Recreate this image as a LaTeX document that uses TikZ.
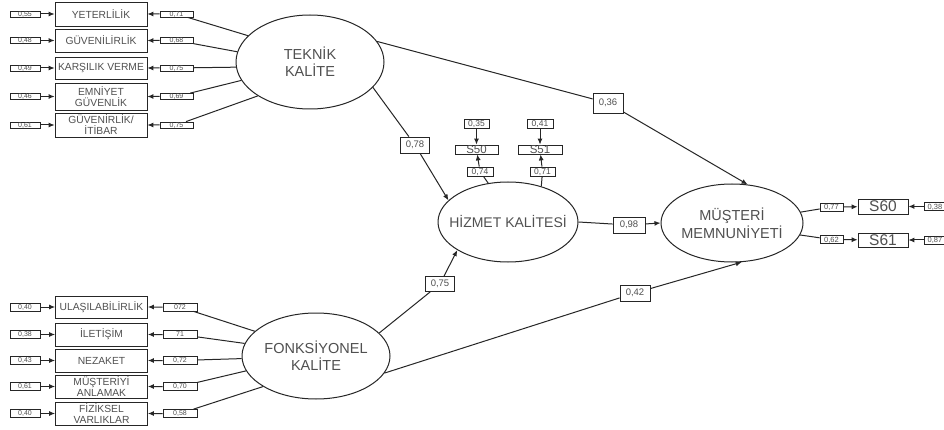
\documentclass[tikz,border=0pt]{standalone}
\usepackage{fontspec}
\setmainfont{Liberation Sans}
\usetikzlibrary{shapes.geometric,arrows.meta}
\definecolor{txt}{HTML}{505050}
\definecolor{ln}{HTML}{262626}
\begin{document}
\begin{tikzpicture}[x=1pt,y=-1pt,
  every node/.style={text=txt},
  ind/.style={draw=ln, line width=0.8pt, minimum width=92pt, inner sep=0pt, align=center, font=\fontsize{10.3}{11}\selectfont},
  errb/.style={draw=ln, line width=0.8pt, minimum width=30pt, minimum height=6pt, inner sep=0pt, text depth=0pt, font=\fontsize{7}{7}\selectfont},
  ldb/.style={errb, minimum width=33pt},
  lat/.style={draw=ln, ellipse, line width=1pt, inner sep=0pt},
  lattxt/.style={align=center, inner sep=0pt, font=\fontsize{14.5}{17}\selectfont},
  lab/.style={draw=ln, fill=white, line width=0.8pt, inner sep=0pt, minimum width=29pt, minimum height=16pt, font=\fontsize{9.5}{10}\selectfont},
  smb/.style={draw=ln, line width=0.8pt, inner sep=0pt, minimum height=9pt, text depth=0pt, font=\fontsize{8.5}{9}\selectfont},
  con/.style={ln, line width=1pt},
  arr/.style={con, -{Latex[length=6pt,width=5pt]}}
]
\useasboundingbox (0,0) rectangle (944,430);
\fill[white] (0,0) rectangle (944,430);

% latent variables
\node[lat, minimum width=148pt, minimum height=94pt] (T) at (310,62) {};
\node[lattxt] (Tt) at (T) {TEKNİK\\KALİTE};
\node[lat, minimum width=148pt, minimum height=86pt] (F) at (316,356) {};
\node[lattxt] (Ft) at (F) {FONKSİYONEL\\KALİTE};
\node[lat, minimum width=140pt, minimum height=80pt] (H) at (508,222) {};
\node[lattxt, font=\fontsize{14}{17}\selectfont] (Ht) at ([yshift=1pt]H) {HİZMET KALİTESİ};
\node[lat, minimum width=142pt, minimum height=78pt] (M) at (732,223) {};
\node[lattxt, font=\fontsize{14.5}{18}\selectfont] (Mt) at (M) {MÜŞTERİ\\MEMNUNİYETİ};

% top-left indicators
\node[ind, minimum height=24pt] (i1) at (101,14) {YETERLİLİK};
\node[ind, minimum height=23pt] (i2) at (101,40.5) {GÜVENİLİRLİK};
\node[ind, minimum height=22pt] (i3) at (101,68) {KARŞILIK VERME};
\node[ind, minimum height=27pt] (i4) at (101,96.5) {EMNİYET\\GÜVENLİK};
\node[ind, minimum height=24pt] (i5) at (101,125) {GÜVENİRLİK/\\İTİBAR};

\node[errb] (e1) at (25,14) {0,55};
\node[errb] (e2) at (25,40.5) {0,48};
\node[errb] (e3) at (25,68) {0,49};
\node[errb] (e4) at (25,96.5) {0,46};
\node[errb] (e5) at (25,125) {0,61};

\node[ldb] (l1) at (176.5,14) {0,71};
\node[ldb] (l2) at (176.5,40.5) {0,68};
\node[ldb] (l3) at (176.5,68) {0,75};
\node[ldb] (l4) at (176.5,96.5) {0,69};
\node[ldb] (l5) at (176.5,125) {0,75};

\foreach \k/\a in {1/157,2/172,3/184,4/195,5/213}{
  \draw[arr] (e\k) -- (i\k);
  \draw[arr] (T.\a) -- (l\k) -- (i\k);
}

% bottom-left indicators
\node[ind, minimum height=22pt] (j1) at (101.5,307) {ULAŞILABİLİRLİK};
\node[ind, minimum height=23pt] (j2) at (101.5,334.5) {İLETİŞİM};
\node[ind, minimum height=23pt] (j3) at (101.5,360.5) {NEZAKET};
\node[ind, minimum height=23pt] (j4) at (101.5,386.5) {MÜŞTERİYİ\\ANLAMAK};
\node[ind, minimum height=23pt] (j5) at (101.5,413.5) {FİZİKSEL\\VARLIKLAR};

\node[errb, minimum height=8pt] (f1) at (25,307) {0,40};
\node[errb, minimum height=8pt] (f2) at (25,334.5) {0,38};
\node[errb, minimum height=8pt] (f3) at (25,360.5) {0,43};
\node[errb, minimum height=8pt] (f4) at (25,386.5) {0,61};
\node[errb, minimum height=8pt] (f5) at (25,413.5) {0,40};

\node[ldb, minimum width=34pt, minimum height=8pt] (m1) at (180,307) {072};
\node[ldb, minimum width=34pt, minimum height=8pt] (m2) at (180,334.5) {71};
\node[ldb, minimum width=34pt, minimum height=8pt] (m3) at (180,360.5) {0,72};
\node[ldb, minimum width=34pt, minimum height=8pt] (m4) at (180,386.5) {0,70};
\node[ldb, minimum width=34pt, minimum height=8pt] (m5) at (180,413.5) {0,58};

\foreach \k/\a in {1/158,2/170,3/182,4/192,5/210}{
  \draw[arr] (f\k) -- (j\k);
  \draw[arr] (F.\a) -- (m\k) -- (j\k);
}

% structural paths
\node[lab] (p78) at (415,145) {0,78};
\node[lab, minimum width=30pt, minimum height=20pt] (p36) at (608,103) {0,36};
\node[lab, minimum width=32pt] (p98) at (629,225) {0,98};
\node[lab, minimum width=30pt] (p42) at (635,293) {0,42};
\node[lab, minimum height=15pt] (p75) at (440,284) {0,75};

\draw[arr] (T.-22) -- (p78) -- (H.160);
\draw[arr] (T.17) -- (p36) -- (M.68);
\draw[arr] (H.east) -- (p98) -- (M.west);
\draw[arr] (F.20) -- (p75) -- (H.-151);
\draw[arr] (F.-14) -- (p42) -- (M.-76);

% HIZMET indicators
\node[smb, minimum width=43pt, font=\fontsize{11.5}{11.5}\selectfont] (S50) at (476.5,149.5) {S50};
\node[smb, minimum width=44pt, font=\fontsize{11.5}{11.5}\selectfont] (S51) at (540,149.5) {S51};
\node[smb, minimum width=25pt] (q35) at (476.5,123.5) {0,35};
\node[smb, minimum width=26pt] (q41) at (540,123.5) {0,41};
\node[smb, minimum width=26pt] (q74) at (480,171.5) {0,74};
\node[smb, minimum width=25pt] (q71) at (542.5,171.5) {0,71};
\draw[arr] (q35) -- (S50);
\draw[arr] (q41) -- (S51);
\draw[arr] (H.117) -- (q74) -- (S50);
\draw[arr] (H.47) -- (q71) -- (S51);

% MUSTERI indicators
\node[smb, minimum width=50pt, minimum height=15pt, font=\fontsize{15.5}{15.5}\selectfont] (S60) at (883,206.5) {S60};
\node[smb, minimum width=50pt, minimum height=14pt, font=\fontsize{15.5}{15.5}\selectfont] (S61) at (883,240) {S61};
\node[smb, minimum width=23pt, minimum height=8pt, font=\fontsize{7.5}{7.5}\selectfont] (r77) at (831.5,207) {0,77};
\node[smb, minimum width=23pt, minimum height=8pt, font=\fontsize{7.5}{7.5}\selectfont] (r62) at (831.5,239.5) {0,62};
\node[smb, minimum width=22pt, minimum height=8pt, font=\fontsize{7.5}{7.5}\selectfont] (r38) at (935,206.5) {0,38};
\node[smb, minimum width=22pt, minimum height=8pt, font=\fontsize{7.5}{7.5}\selectfont] (r87) at (935,240) {0,87};
\draw[arr] (M.9) -- (r77) -- (S60);
\draw[arr] (M.-10) -- (r62) -- (S61);
\draw[arr] (r38) -- (S60);
\draw[arr] (r87) -- (S61);
\end{tikzpicture}
\end{document}
